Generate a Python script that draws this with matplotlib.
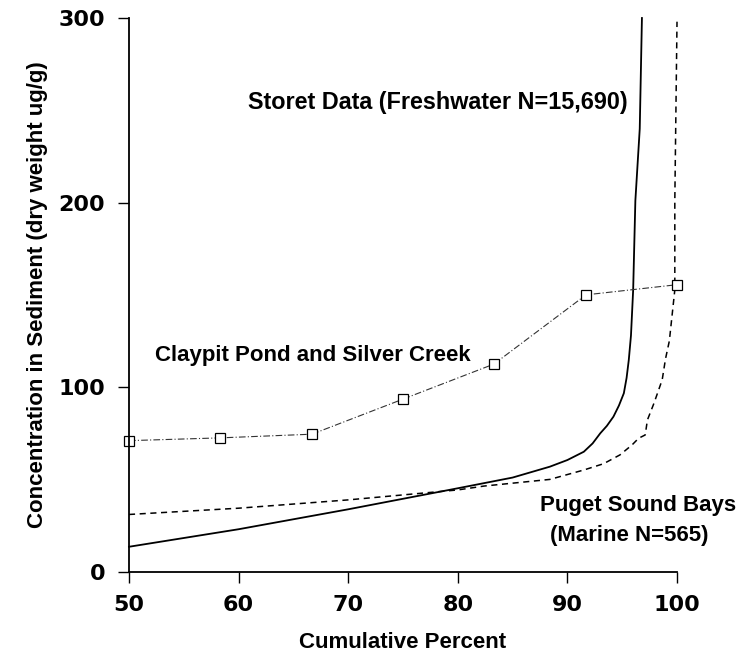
import matplotlib
matplotlib.use("Agg")
import matplotlib.pyplot as plt

# Storet Data (Freshwater) - solid curve
storet_x = [50, 60, 70, 80, 85, 88.4, 90, 91.5, 92.3, 93.0, 93.6, 94.2, 94.7, 95.15, 95.4, 95.6, 95.8, 96.0, 96.2, 96.6, 96.8]
storet_y = [13.5, 23, 33.8, 45.2, 51, 56.9, 60.5, 65, 69.5, 75, 79, 84, 90, 96.7, 105, 114.7, 128, 152.7, 201, 240, 300]

# Puget Sound Bays (Marine) - dashed curve
puget_x = [50, 60, 70, 80, 82.4, 88.4, 91.5, 93.3, 94.8, 95.9, 96.5, 97.1, 97.3, 97.9, 98.65, 98.95, 99.3, 99.8, 99.8, 100]
puget_y = [31, 34.4, 38.9, 44.3, 46.4, 50, 55.1, 58.5, 63.3, 68.7, 72.3, 74.1, 82.2, 91.3, 104, 115.3, 125, 152.7, 201, 298]

# Claypit Pond and Silver Creek - squares
clay_x = [50, 58.3, 66.7, 75, 83.3, 91.7, 100]
clay_y = [71, 72.5, 74.5, 93.5, 112.5, 150, 155.5]

x_ticks = [50, 60, 70, 80, 90, 100]
y_ticks = [0, 100, 200, 300]

fig = plt.figure(figsize=(7.37, 6.67), dpi=100)
ax = fig.add_axes([0.175, 0.1429, 0.7436, 0.8301])

ax.plot(storet_x, storet_y, color="black", lw=1.3, solid_joinstyle="round", clip_on=False)
ax.plot(puget_x, puget_y, color="black", lw=1.1, linestyle=(0, (4, 3)), clip_on=False)
ax.plot(clay_x, clay_y, color="#333333", lw=0.8, linestyle=(0, (6, 2, 1, 2)),
        marker="s", markersize=7, markerfacecolor="white", markeredgecolor="black",
        markeredgewidth=0.9, clip_on=False)

ax.set_xlim(50, 100)
ax.set_ylim(0, 300)
ax.set_xticks(x_ticks)
ax.set_yticks(y_ticks)
ax.set_xticklabels([str(v) for v in x_ticks])
ax.set_yticklabels([str(v) for v in y_ticks])

for s in ["top", "right"]:
    ax.spines[s].set_visible(False)
for s in ["left", "bottom"]:
    ax.spines[s].set_linewidth(1.3)

ax.tick_params(direction="out", length=8, width=1.0, pad=9)
for lab in ax.get_xticklabels() + ax.get_yticklabels():
    lab.set_fontfamily("DejaVu Sans")
    lab.set_fontweight("heavy")
    lab.set_fontsize(16)

tfont = dict(family="Liberation Sans", fontsize=16, fontweight="bold", color="black")
ax.set_xlabel("Cumulative Percent", labelpad=12, **tfont)
ax.set_ylabel("Concentration in Sediment (dry weight ug/g)", labelpad=8, **tfont)


def txt(px, py, s, size=16, ha="left"):
    f = dict(tfont)
    f["fontsize"] = size
    fig.text(px / 737, 1 - py / 667, s, ha=ha, va="center", **f)


txt(248, 102, "Storet Data (Freshwater N=15,690)", size=16.8)
txt(155, 355, "Claypit Pond and Silver Creek")
txt(540, 505, "Puget Sound Bays")
txt(550, 535, "(Marine N=565)")

fig.savefig("out.png", dpi=100)
